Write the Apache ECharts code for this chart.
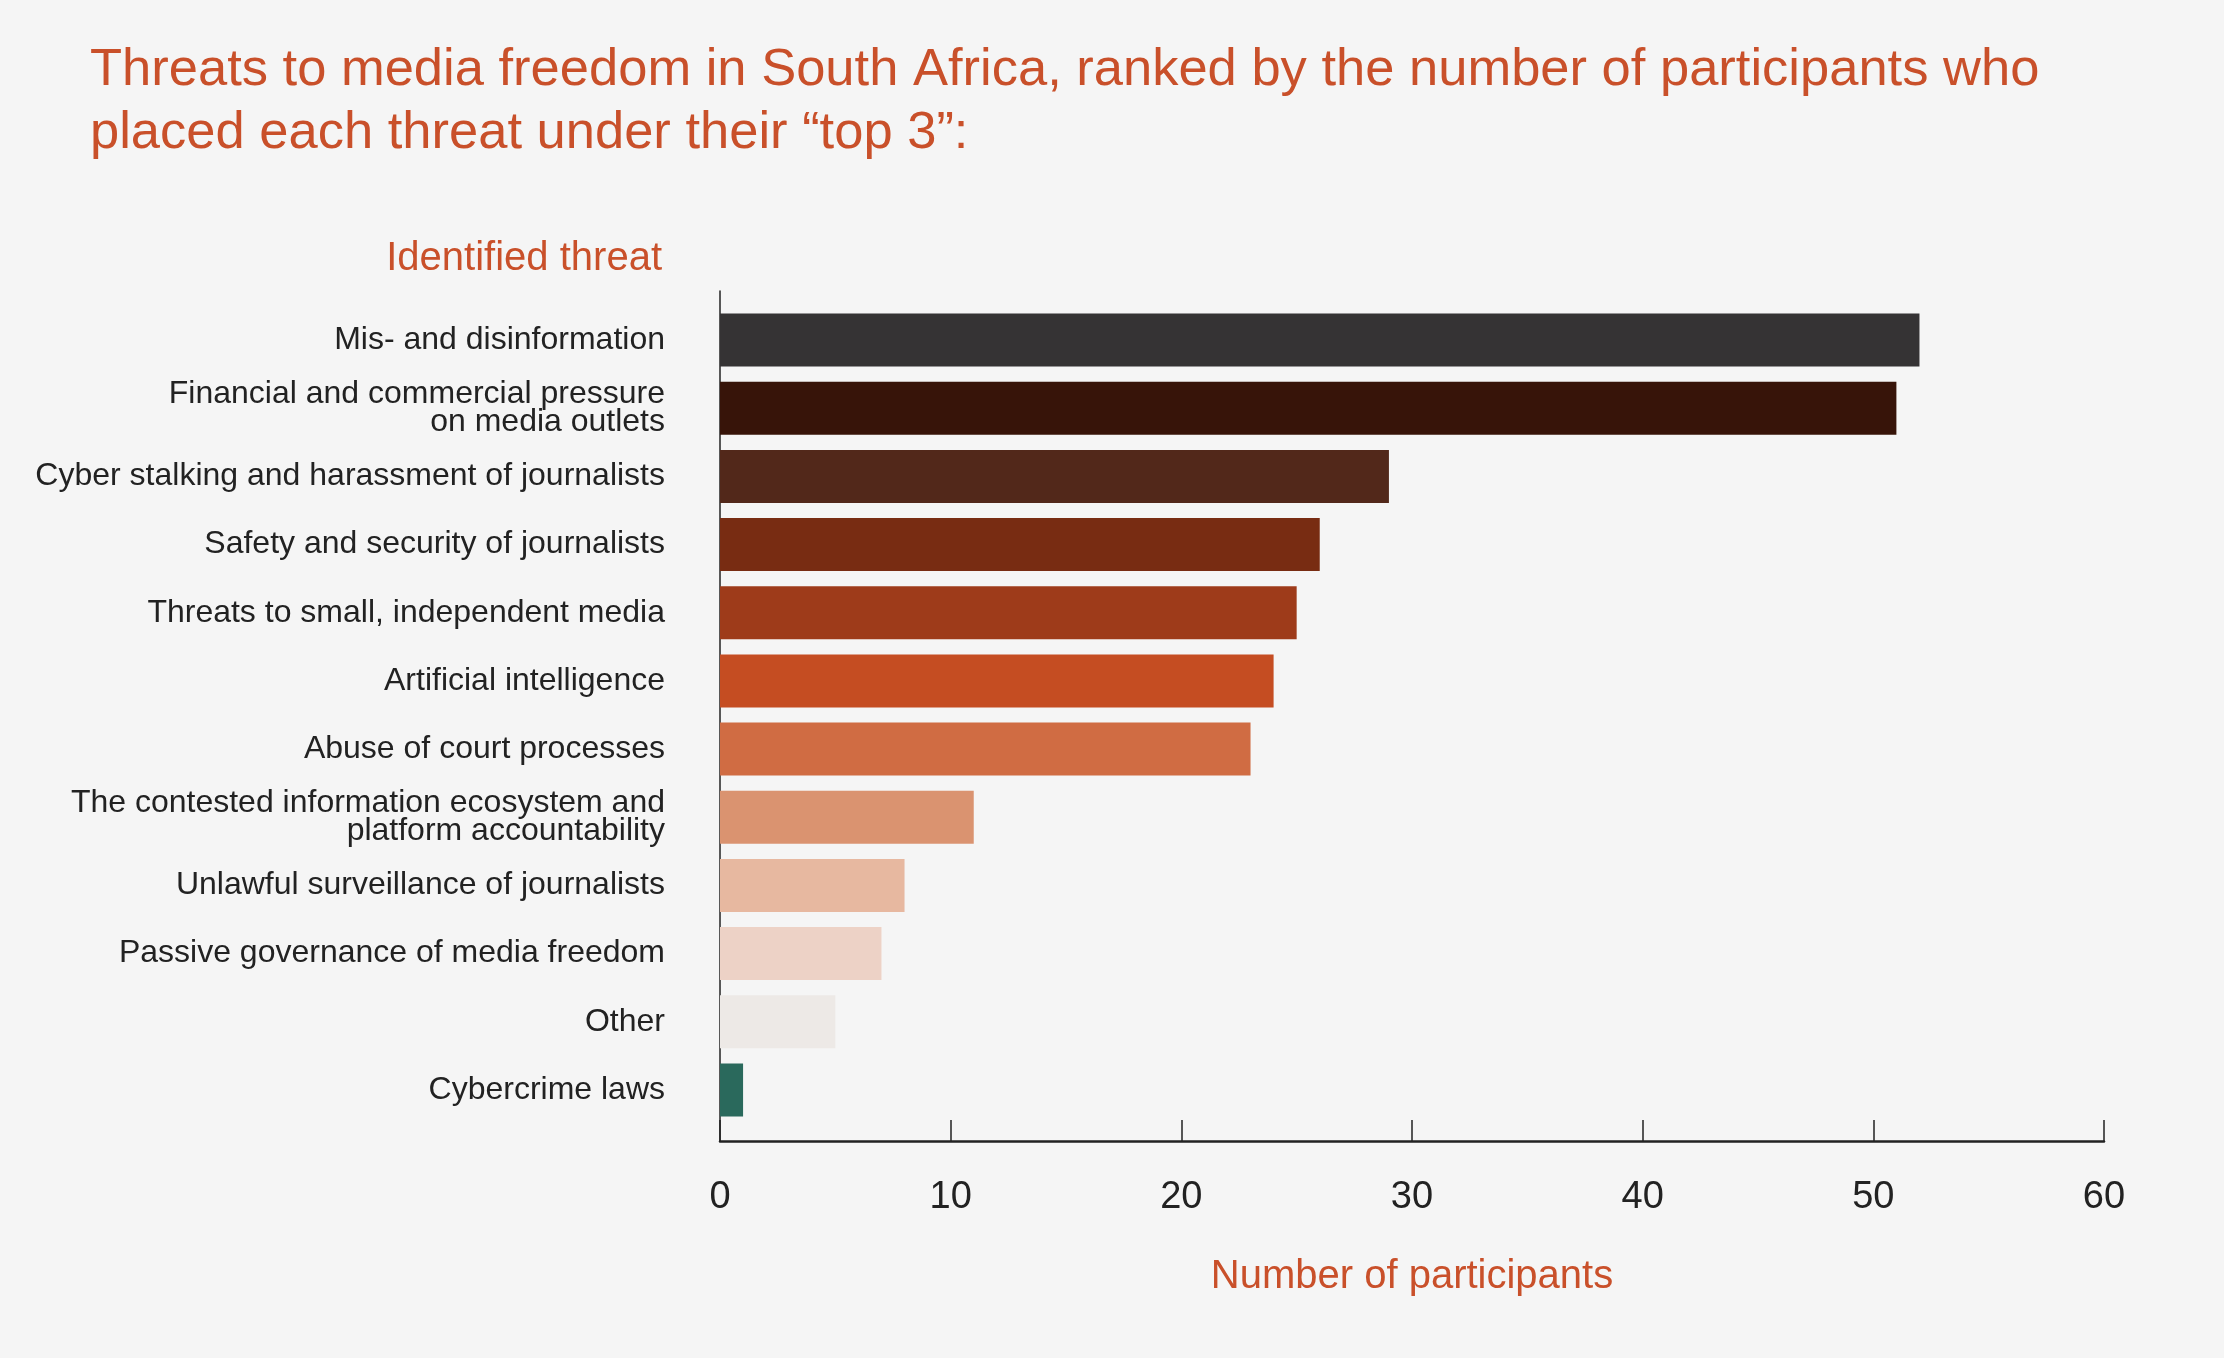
<!DOCTYPE html>
<html>
<head>
<meta charset="utf-8">
<script src="https://cdn.jsdelivr.net/npm/echarts@6/dist/echarts.min.js"></script>
<style>
html,body{margin:0;padding:0;background:#f5f5f5;}
#chart{width:2224px;height:1358px;}
</style>
</head>
<body>
<div id="chart"></div>
<script>
// ---- data ----
const categories = [
  'Mis- and disinformation',
  'Financial and commercial pressure\non media outlets',
  'Cyber stalking and harassment of journalists',
  'Safety and security of journalists',
  'Threats to small, independent media',
  'Artificial intelligence',
  'Abuse of court processes',
  'The contested information ecosystem and\nplatform accountability',
  'Unlawful surveillance of journalists',
  'Passive governance of media freedom',
  'Other',
  'Cybercrime laws'
];
const participants = [52, 51, 29, 26, 25, 24, 23, 11, 8, 7, 5, 1];
const xTicks = [0, 10, 20, 30, 40, 50, 60];

// ---- styles ----
const barColors = ['#353334','#371409','#52281a','#782c12','#9e3b1a','#c54d22','#d06c43','#da9370','#e7b8a0','#edd2c6','#ede9e6','#2a695c'];
const orange = '#c9502a';
const ink = '#222222';
const font = '"Liberation Sans", Arial, Helvetica, sans-serif';

const chart = echarts.init(document.getElementById('chart'), null, {renderer: 'canvas'});
chart.setOption({
  backgroundColor: '#f5f5f5',
  animation: false,
  textStyle: {fontFamily: font},
  title: [
    {
      text: 'Threats to media freedom in South Africa, ranked by the number of participants who\nplaced each threat under their \u201ctop 3\u201d:',
      left: 85, top: 34,
      textStyle: {color: orange, fontSize: 52.5, fontWeight: 'normal', lineHeight: 63, fontFamily: font}
    },
    {
      text: 'Identified threat',
      right: 1557, top: 234,
      textStyle: {color: orange, fontSize: 40, fontWeight: 'normal', lineHeight: 40, fontFamily: font}
    }
  ],
  grid: [
    {left: 720, right: 120, top: 291, bottom: 217, containLabel: false},
    {left: 720, right: 120, top: 306, bottom: 234, containLabel: false}
  ],
  xAxis: [
    {
      gridIndex: 0, type: 'value', min: xTicks[0], max: xTicks[xTicks.length-1], interval: 10,
      axisLine: {show: true, lineStyle: {color: ink, width: 2.5}},
      axisTick: {show: true, inside: true, length: 21, lineStyle: {color: ink, width: 1.5}},
      axisLabel: {color: ink, fontSize: 38, margin: 38, fontFamily: font},
      splitLine: {show: false},
      name: 'Number of participants', nameLocation: 'middle', nameGap: 116,
      nameTextStyle: {color: orange, fontSize: 40, fontFamily: font}
    },
    {gridIndex: 1, type: 'value', min: 0, max: 60, show: false}
  ],
  yAxis: [
    {
      gridIndex: 0, type: 'value', min: 0, max: 1,
      axisLine: {show: true, lineStyle: {color: ink, width: 1.5}},
      axisTick: {show: false}, axisLabel: {show: false}, splitLine: {show: false}
    },
    {
      gridIndex: 1, type: 'category', inverse: true, data: categories,
      axisLine: {show: false}, axisTick: {show: false}, splitLine: {show: false},
      axisLabel: {color: ink, fontSize: 32, lineHeight: 28, margin: 55, fontFamily: font}
    }
  ],
  series: [{
    type: 'bar', xAxisIndex: 1, yAxisIndex: 1,
    barWidth: 53,
    data: participants.map((v, i) => ({value: v, itemStyle: {color: barColors[i]}}))
  }]
});
</script>
</body>
</html>
